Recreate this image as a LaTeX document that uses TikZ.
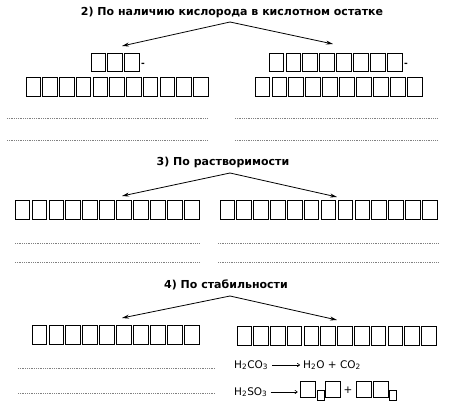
\documentclass[tikz,border=0pt]{standalone}
\usepackage{fontspec}
\setmainfont{DejaVu Sans}
\usetikzlibrary{arrows.meta,positioning,calc}

% one row of empty letter cells: name, left x, right x, count, centre y
\newcommand{\cellrow}[5]{%
  \foreach \i in {1,...,#4} {
    \pgfmathsetmacro{\cx}{#2+7.25+(\i-1)*(#3-#2-14.5)/(#4-1)}
    \node[cell] (#1-\i) at (\cx,#5) {};
  }}

\begin{document}
\begin{tikzpicture}[
    x=1pt, y=-1pt,
    head/.style={font=\fontsize{11}{13}\selectfont\bfseries, inner sep=0pt},
    cell/.style={rectangle, draw, minimum width=14.5pt, minimum height=18.5pt,
                 inner sep=0pt, line width=0.8pt},
    branch/.style={-{Stealth[length=7pt,width=4pt]}, line width=0.8pt},
    dots/.style={gray, line width=0.6pt, dash pattern=on 1pt off 0.8pt},
    formula/.style={font=\fontsize{10.5}{12}\selectfont, inner sep=0pt, anchor=west},
    react/.style={-{To[length=3pt,width=4pt]}, line width=0.6pt},
    slot/.style={rectangle, draw, minimum width=15pt, minimum height=15.5pt,
                 inner sep=0pt, line width=0.7pt},
    sub/.style={rectangle, draw, minimum width=7pt, minimum height=10pt,
                inner sep=0pt, line width=0.7pt},
    hyph/.style={inner sep=0pt, font=\bfseries\small},
]
\useasboundingbox (0,0) rectangle (469,406);

% --- 2) oxygen in the acid residue
\node[head] (h2) at (232,12) {2) По наличию кислорода в кислотном остатке};
\coordinate (top2) at (230,22);
\coordinate (l2) at (122,46);
\coordinate (r2) at (333,44);
\draw[branch] (top2) -- (l2);
\draw[branch] (top2) -- (r2);
\cellrow{a}{91}{139}{3}{62.5}
\node[hyph] (da) at (143,65) {-};
\cellrow{b}{269}{402}{8}{62.5}
\node[hyph] (db) at (406,65) {-};
\cellrow{c}{26}{208}{11}{87}
\cellrow{d}{255}{422}{10}{87}
\draw[dots] (7,118) -- (208,118);
\draw[dots] (235,118) -- (438,118);
\draw[dots] (7,140) -- (208,140);
\draw[dots] (235,140) -- (438,140);

% --- 3) solubility
\node[head] (h3) at (223,162) {3) По растворимости};
\coordinate (top3) at (230,173);
\coordinate (l3) at (122,196);
\coordinate (r3) at (337,197);
\draw[branch] (top3) -- (l3);
\draw[branch] (top3) -- (r3);
\cellrow{e}{15}{199}{11}{210}
\cellrow{f}{220}{437}{13}{210}
\draw[dots] (15,243) -- (200,243);
\draw[dots] (218,243) -- (438,243);
\draw[dots] (15,262) -- (200,262);
\draw[dots] (218,262) -- (438,262);

% --- 4) stability
\node[head] (h4) at (226,285) {4) По стабильности};
\coordinate (top4) at (230,296);
\coordinate (l4) at (122,318);
\coordinate (r4) at (337,320);
\draw[branch] (top4) -- (l4);
\draw[branch] (top4) -- (r4);
\cellrow{g}{32}{199}{10}{335}
\cellrow{k}{237}{436}{12}{336}
\draw[dots] (18,368) -- (215,368);
\draw[dots] (18,393) -- (215,393);

% --- decomposition of the unstable acids
\node[formula] (co3) at (234,365) {H\textsubscript{2}CO\textsubscript{3}};
\node[formula] (prod1) at (303,365) {H\textsubscript{2}O + CO\textsubscript{2}};
\draw[react] ([xshift=4pt]co3.east) -- ([xshift=-3pt]prod1.west);
\node[formula] (so3) at (234,392) {H\textsubscript{2}SO\textsubscript{3}};
\node[slot] (s1) at (307.5,389.5) {};
\node[sub] (s2) at (320.5,395) {};
\node[slot] (s3) at (332.5,389.5) {};
\node[inner sep=0pt, font=\fontsize{10.5}{12}\selectfont] (plus) at (348,390) {+};
\node[slot] (s4) at (363.5,389.5) {};
\node[slot] (s5) at (380.5,389.5) {};
\node[sub] (s6) at (393,395) {};
\draw[react] ([xshift=3pt]so3.east) -- ($(s1.west |- so3.east)+(-2,0)$);
\end{tikzpicture}
\end{document}
